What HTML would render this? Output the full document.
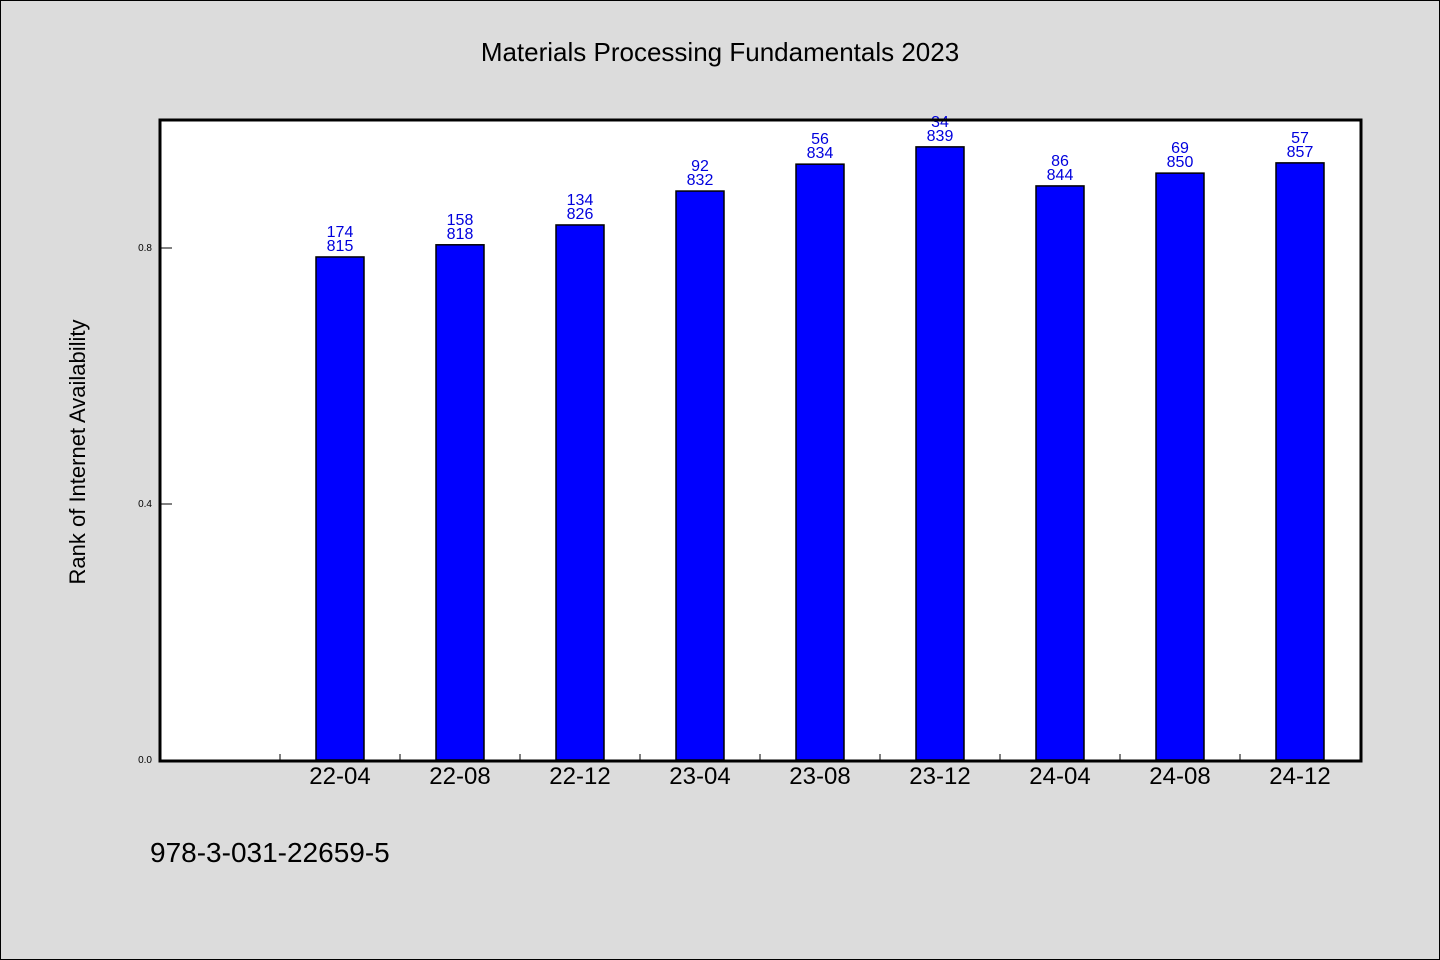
<!DOCTYPE html>
<html><head><meta charset="utf-8"><style>
body{margin:0;background:#dcdcdc;}
svg{display:block;font-family:"WenQuanYi Zen Hei","Liberation Sans",sans-serif;}
</style></head><body>
<svg width="1440" height="960">
<rect x="0.5" y="0.5" width="1439" height="959" fill="#dcdcdc" stroke="#000"/>
<text x="720" y="61" text-anchor="middle" font-size="26">Materials Processing Fundamentals 2023</text>
<rect x="160" y="120" width="1201" height="641" fill="#fff"/>
<g id="marks"></g>
<rect x="160" y="120" width="1201" height="641" fill="none" stroke="#000" stroke-width="3"/>
<text transform="translate(85,452) rotate(-90)" text-anchor="middle" font-size="22">Rank of Internet Availability</text>
<text x="150" y="862" font-size="28">978-3-031-22659-5</text>
</svg>
<script>
const categories=["22-04","22-08","22-12","23-04","23-08","23-12","24-04","24-08","24-12"];
const values=[0.786,0.805,0.836,0.889,0.931,0.958,0.897,0.917,0.933];
const ranks=["174","158","134","92","56","34","86","69","57"];
const counts=["815","818","826","832","834","839","844","850","857"];
const yTicks=[0.0,0.4,0.8];
const NS="http://www.w3.org/2000/svg";
const g=document.getElementById('marks');
const y=v=>760-v*640;
const slot=120, x0=160;
const xc=i=>x0+(i+1)*slot+slot/2;
function mk(t,a){const e=document.createElementNS(NS,t);for(const k in a)e.setAttribute(k,a[k]);g.appendChild(e);return e;}
yTicks.forEach(t=>{
 const l=mk('line',{x1:160,x2:172,y1:y(t),y2:y(t),stroke:'#000'});
 
 
 const tx=mk('text',{x:152,y:y(t)+3,'text-anchor':'end','font-size':10});
 tx.textContent=t.toFixed(1);
 
 
});
for(let i=0;i<=categories.length;i++){
 const xx=x0+(i+1)*slot;
 if(i<categories.length){
 const l=mk('line',{x1:xx,x2:xx,y1:760,y2:754,stroke:'#000'});
 
 }
}
categories.forEach((c,i)=>{
 const cx=xc(i), top=y(values[i]);
 const r=mk('rect',{x:cx-24,y:top,width:48,height:760-top,fill:'#0000ff',stroke:'#000','stroke-width':1.5});
 
 
 const t1=mk('text',{x:cx,y:top-20,'text-anchor':'middle','font-size':16,fill:'#0000dd'});
 t1.textContent=ranks[i];
 
 
 const t2=mk('text',{x:cx,y:top-6,'text-anchor':'middle','font-size':16,fill:'#0000dd'});
 t2.textContent=counts[i];
 
 
 const xl=mk('text',{x:cx,y:784,'text-anchor':'middle','font-size':24});
 xl.textContent=c;
 
 
});
</script>
</body></html>
